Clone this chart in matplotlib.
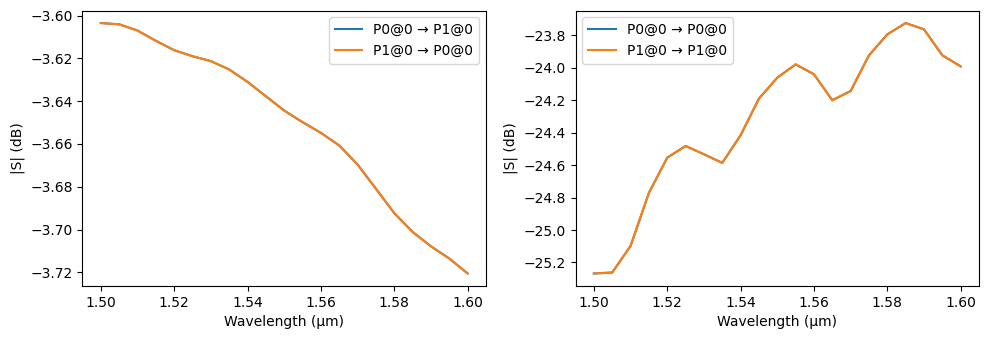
import matplotlib
matplotlib.use("Agg")
import matplotlib.pyplot as plt

# ==========================================================
# Data
# ==========================================================

wavelength = [
    1.500, 1.505, 1.510, 1.515, 1.520, 1.525, 1.530, 1.535, 1.540, 1.545,
    1.550, 1.555, 1.560, 1.565, 1.570, 1.575, 1.580, 1.585, 1.590, 1.595,
    1.600,
]

s21_db = [
    -3.6035, -3.6041, -3.6070, -3.6118, -3.6162, -3.6190, -3.6213, -3.6252,
    -3.6310, -3.6377, -3.6444, -3.6498, -3.6548, -3.6607, -3.6696, -3.6809,
    -3.6923, -3.7011, -3.7078, -3.7135, -3.7205,
]

s11_db = [
    -25.268, -25.262, -25.098, -24.771, -24.554, -24.482, -24.533, -24.586,
    -24.416, -24.190, -24.061, -23.979, -24.040, -24.200, -24.143, -23.923,
    -23.794, -23.724, -23.763, -23.923, -23.991,
]

left_labels = ["P0@0 → P1@0", "P1@0 → P0@0"]
right_labels = ["P0@0 → P0@0", "P1@0 → P1@0"]

# ==========================================================
# Plot
# ==========================================================

fig, (ax1, ax2) = plt.subplots(1, 2, figsize=(9.89, 3.39), dpi=100)

fig.subplots_adjust(
    left=0.0834,
    right=0.9899,
    bottom=0.1563,
    top=0.969,
    wspace=0.222
)

ax1.plot(wavelength, s21_db, label=left_labels[0])
ax1.plot(wavelength, s21_db, label=left_labels[1])
ax1.set_xlabel("Wavelength (µm)")
ax1.set_ylabel("|S| (dB)")
ax1.legend(loc="upper right")

ax2.plot(wavelength, s11_db, label=right_labels[0])
ax2.plot(wavelength, s11_db, label=right_labels[1])
ax2.set_xlabel("Wavelength (µm)")
ax2.set_ylabel("|S| (dB)")
ax2.legend(loc="upper left")

fig.savefig("out.png", dpi=100)
plt.close(fig)
